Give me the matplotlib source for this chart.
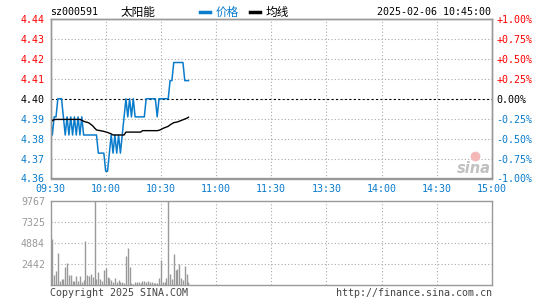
import numpy as np
import matplotlib
matplotlib.use("Agg")
import matplotlib.pyplot as plt

# minute index from 09:30 (0..75 -> 10:45)
price = [4.39, 4.38, 4.39, 4.39, 4.40, 4.40, 4.40, 4.39, 4.38, 4.39,
         4.38, 4.39, 4.38, 4.39, 4.38, 4.39, 4.38, 4.39, 4.38, 4.38,
         4.38, 4.38, 4.38, 4.38, 4.38, 4.38, 4.37, 4.37, 4.37, 4.37,
         4.36, 4.36, 4.37, 4.38, 4.37, 4.38, 4.37, 4.38, 4.37, 4.38,
         4.39, 4.40, 4.39, 4.40, 4.39, 4.40, 4.39, 4.39, 4.39, 4.39,
         4.39, 4.39, 4.40, 4.40, 4.40, 4.40, 4.40, 4.40, 4.39, 4.40,
         4.40, 4.40, 4.40, 4.40, 4.40, 4.41, 4.41, 4.42, 4.42, 4.42,
         4.42, 4.42, 4.42, 4.41, 4.41, 4.41]

avg_line = [4.3899, 4.3878, 4.3885, 4.3886, 4.3886, 4.3886, 4.3886, 4.3886, 4.3886, 4.3886,
            4.3886, 4.3886, 4.3886, 4.3886, 4.3886, 4.3886, 4.3886, 4.3882, 4.3876, 4.3872,
            4.3870, 4.3866, 4.3858, 4.3850, 4.3838, 4.3828, 4.3826, 4.3824, 4.3822, 4.3820,
            4.3817, 4.3814, 4.3810, 4.3806, 4.3800, 4.3800, 4.3800, 4.3800, 4.3800, 4.3800,
            4.3800, 4.3816, 4.3816, 4.3816, 4.3816, 4.3816, 4.3816, 4.3816, 4.3816, 4.3816,
            4.3824, 4.3824, 4.3824, 4.3824, 4.3824, 4.3824, 4.3824, 4.3824, 4.3824, 4.3826,
            4.3830, 4.3836, 4.3840, 4.3844, 4.3848, 4.3856, 4.3862, 4.3868, 4.3870, 4.3872,
            4.3876, 4.3880, 4.3884, 4.3888, 4.3892, 4.3898]

volume = [1310, 5380, 1200, 1660, 3760, 500, 730, 730, 2130, 2590,
          1200, 1200, 500, 500, 1080, 500, 1080, 400, 600, 5150,
          1200, 1080, 1310, 970, 9767, 730, 1550, 730, 500, 1780,
          2010, 930, 890, 660, 430, 850, 350, 580, 430, 350,
          230, 3410, 4340, 2130, 300, 200, 350, 350, 400, 250,
          500, 500, 420, 500, 420, 350, 250, 300, 220, 850,
          2940, 430, 430, 880, 9767, 1310, 730, 3640, 1780, 1860,
          2440, 880, 580, 2250, 1310, 400]

time_labels = ["09:30", "10:00", "10:30", "11:00", "11:30", "13:30", "14:00", "14:30", "15:00"]
prev_close = 4.40
vol_max = 9767

blue = "#0a7ccc"
red = "#ff0000"
grid_c = "#aaaaaa"
frame_c = "#999999"
mono = "DejaVu Sans Mono"
cjk = ["Noto Sans CJK SC", "DejaVu Sans Mono"]

fig = plt.figure(figsize=(5.45, 3.0), dpi=100)
ax = fig.add_axes([50.5 / 545, 1 - 178.5 / 300, (492 - 50.5) / 545, (178.5 - 19) / 300])
axv = fig.add_axes([50.5 / 545, 1 - 285.3 / 300, (492 - 50.5) / 545, (285.3 - 201) / 300])

minutes = np.arange(len(price))

# price panel, range is +-1% of previous close
lo, hi = prev_close * 0.99, prev_close * 1.01
ax.set_xlim(0, 240)
ax.set_ylim(lo, hi)
yt = np.linspace(lo, hi, 9)
for v in yt[1:-1]:
    if abs(v - prev_close) < 1e-9:
        ax.axhline(v, color="black", lw=0.8, ls=(0, (2, 2)), zorder=1)
    else:
        ax.axhline(v, color=grid_c, lw=0.8, ls=(0, (1, 2)), zorder=1)
for xv in range(30, 240, 30):
    ax.axvline(xv, color=grid_c, lw=0.8, ls=(0, (1, 2)), zorder=1)

ax.plot(minutes, price, color=blue, lw=1.1, zorder=3)
ax.plot(minutes, avg_line, color="black", lw=1.0, zorder=4)

ax.set_yticks(yt)
ax.set_yticklabels(["%.2f" % v for v in yt], family=mono, fontsize=7.2)
for lab, v in zip(ax.get_yticklabels(), yt):
    if abs(v - prev_close) < 1e-9:
        lab.set_color("black")
    elif v > prev_close:
        lab.set_color(red)
    else:
        lab.set_color(blue)
ax.set_xticks(range(0, 241, 30))
ax.set_xticklabels(time_labels, family=mono, fontsize=7.2, color=blue)
ax.tick_params(length=0, pad=4)

axr = ax.twinx()
axr.set_ylim(-1, 1)
pt = np.linspace(-1, 1, 9)
axr.set_yticks(pt)
pct_labels = []
for v in pt:
    if v > 0:
        pct_labels.append("+%.2f%%" % v)
    elif v == 0:
        pct_labels.append("0.00%")
    else:
        pct_labels.append("%.2f%%" % v)
axr.set_yticklabels(pct_labels, family=mono, fontsize=7.2)
for lab, v in zip(axr.get_yticklabels(), pt):
    lab.set_color("black" if v == 0 else (red if v > 0 else blue))
axr.tick_params(length=0, pad=3)

for a in (ax, axr, axv):
    for s in a.spines.values():
        s.set_color(frame_c)
        s.set_linewidth(1.0)

# sina watermark
ax.text(0.997, 0.065, "sina", transform=ax.transAxes, ha="right", va="center",
        fontsize=10.5, fontweight="bold", style="italic", color="#c0c0c0", zorder=2)
ax.plot([0.962], [0.14], transform=ax.transAxes, marker="o", ms=6, mfc="#f4b8b8",
        mec="#f4b8b8", zorder=2)

# volume panel
axv.set_xlim(0, 240)
axv.set_ylim(0, vol_max)
vt = [vol_max * k / 4 for k in range(5)]
for v in vt[1:-1]:
    axv.axhline(v, color=grid_c, lw=0.8, ls=(0, (1, 2)), zorder=1)
for xv in range(30, 240, 30):
    axv.axvline(xv, color=grid_c, lw=0.8, ls=(0, (1, 2)), zorder=1)
axv.vlines(minutes, 0, volume, color=frame_c, lw=1.0, zorder=3)
axv.set_yticks(vt[1:])
axv.set_yticklabels(["%d" % round(v) for v in vt[1:]], family=mono, fontsize=7.2, color=frame_c)
axv.set_xticks([])
axv.tick_params(length=0, pad=4)

# header
fig.text(50 / 545, 1 - 12 / 300, "sz000591", family=mono, fontsize=7.2, va="center", ha="left")
fig.text(121 / 545, 1 - 12 / 300, "太阳能", family=cjk, fontsize=8.4, va="center", ha="left")
fig.lines.append(plt.Line2D([200 / 545, 210 / 545], [1 - 12 / 300] * 2, color=blue, lw=2.5,
                            transform=fig.transFigure))
fig.text(216 / 545, 1 - 12 / 300, "价格", family=cjk, fontsize=8.4, va="center", ha="left", color=blue)
fig.lines.append(plt.Line2D([250 / 545, 260 / 545], [1 - 12 / 300] * 2, color="black", lw=2.5,
                            transform=fig.transFigure))
fig.text(266 / 545, 1 - 12 / 300, "均线", family=cjk, fontsize=8.4, va="center", ha="left")
fig.text(491 / 545, 1 - 12 / 300, "2025-02-06 10:45:00", family=mono, fontsize=7.2, va="center", ha="right")

# footer
fig.text(50 / 545, 1 - 293 / 300, "Copyright 2025 SINA.COM", family=mono, fontsize=7.2,
         va="center", ha="left", color="#444444")
fig.text(492 / 545, 1 - 293 / 300, "http://finance.sina.com.cn", family=mono, fontsize=7.2,
         va="center", ha="right", color="#444444")

fig.savefig("out.png", dpi=100)
